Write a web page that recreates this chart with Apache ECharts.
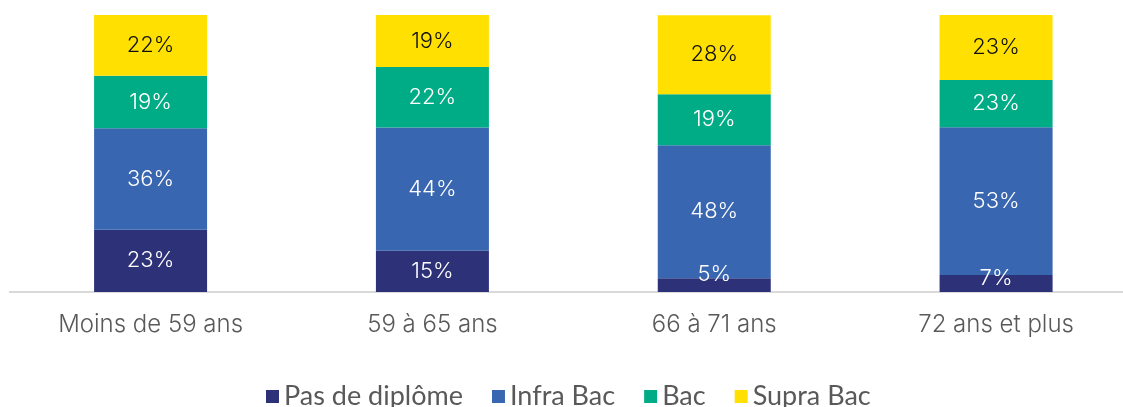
<!DOCTYPE html>
<html>
<head>
<meta charset="utf-8">
<style>
html,body{margin:0;padding:0;background:#fff;overflow:hidden;width:1123px;height:407px;}
#chart{width:1137px;height:407px;}
</style>
<script src="https://cdn.jsdelivr.net/npm/echarts@6/dist/echarts.min.js"></script>
</head>
<body>
<div id="chart"></div>
<script>
const categories = ["Moins de 59 ans", "59 à 65 ans", "66 à 71 ans", "72 ans et plus"];
const seriesNames = ["Pas de diplôme", "Infra Bac", "Bac", "Supra Bac"];
// segment heights as drawn (share of bar, %)
const pasDeDiplome = [22.5, 14.9, 5.0, 6.1];
const infraBac = [36.6, 44.5, 48.0, 53.4];
const bac = [19.0, 21.8, 18.4, 17.0];
const supraBac = [21.9, 18.8, 28.5, 23.5];
// printed labels
const pasDeDiplomeLabels = ["23%", "15%", "5%", "7%"];
const infraBacLabels = ["36%", "44%", "48%", "53%"];
const bacLabels = ["19%", "22%", "19%", "23%"];
const supraBacLabels = ["22%", "19%", "28%", "23%"];

const colors = ["#2d3178", "#3966b0", "#00ac86", "#ffe000"];
const values = [pasDeDiplome, infraBac, bac, supraBac];
const labels = [pasDeDiplomeLabels, infraBacLabels, bacLabels, supraBacLabels];
const font = "Inter";

const chart = echarts.init(document.getElementById('chart'));
const series = seriesNames.map((name, s) => ({
  name: name,
  type: 'bar',
  stack: 'total',
  barWidth: 113,
  itemStyle: { color: colors[s] },
  label: {
    show: true,
    position: 'inside',
    color: s === 3 ? '#111' : '#fff',
    fontFamily: font,
    fontWeight: 300,
    fontSize: 22,
    formatter: p => labels[s][p.dataIndex]
  },
  data: values[s].map((v, i) => {
    const d = { value: v };
    if (s === 0 && v < 8) d.label = { offset: [0, v < 5.5 ? -11 : -5] };
    return d;
  })
}));

chart.setOption({
  animation: false,
  grid: { left: 9.67, top: 15, right: 0, bottom: 115, containLabel: false },
  legend: {
    data: seriesNames,
    top: 383,
    left: 266,
    padding: 0,
    icon: 'rect',
    itemWidth: 13,
    itemHeight: 13,
    itemGap: 29,
    textStyle: { color: '#595959', fontFamily: 'Lato', fontSize: 27, fontWeight: 400, padding: [0, 0, 0, 0] }
  },
  xAxis: {
    type: 'category',
    data: categories,
    axisLine: { show: true, lineStyle: { color: '#d9d9d9', width: 2 } },
    axisTick: { show: false },
    axisLabel: { color: '#595959', fontFamily: font, fontWeight: 300, fontSize: 24, margin: 21 }
  },
  yAxis: {
    type: 'value',
    min: 0,
    max: 100,
    show: false,
    splitLine: { show: false }
  },
  series: series
});
</script>
</body>
</html>
